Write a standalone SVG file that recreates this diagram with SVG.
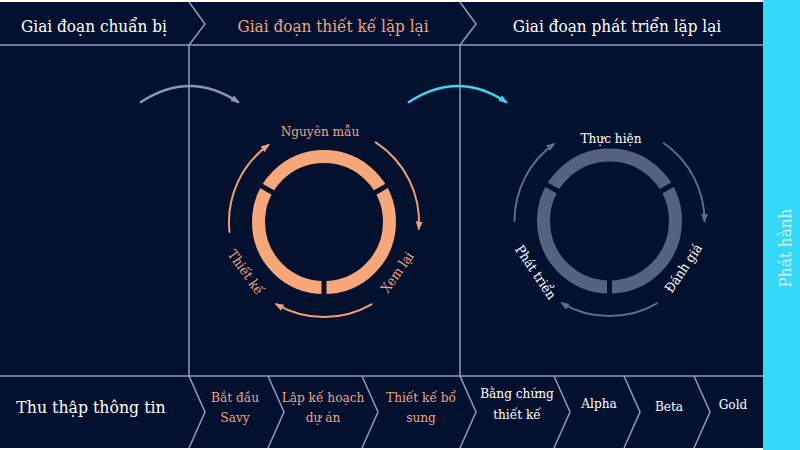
<svg xmlns="http://www.w3.org/2000/svg" width="800" height="450" viewBox="0 0 800 450">
<style>
  .t{font-family:'DejaVu Serif Condensed','DejaVu Serif',serif;text-anchor:middle}
  .w{fill:#ffffff}
  .o{fill:#f2a37e}
  .div{stroke:#8e9cc0;stroke-width:1.5;fill:none}
  .gap{stroke:#03112f;stroke-width:5}
</style>
<defs>
  <marker id="aO" markerUnits="userSpaceOnUse" markerWidth="10" markerHeight="8" refX="7" refY="4" orient="auto"><path d="M0,0.5 L9,4 L0,7.5 z" fill="#f1a07a"/></marker>
  <marker id="aG" markerUnits="userSpaceOnUse" markerWidth="10" markerHeight="8" refX="7" refY="4" orient="auto"><path d="M0,0.5 L9,4 L0,7.5 z" fill="#5d6d8c"/></marker>
  <marker id="aL" markerUnits="userSpaceOnUse" markerWidth="10" markerHeight="8" refX="7" refY="4" orient="auto"><path d="M0,0.5 L9,4 L0,7.5 z" fill="#8796b6"/></marker>
  <marker id="aC" markerUnits="userSpaceOnUse" markerWidth="10" markerHeight="8" refX="7" refY="4" orient="auto"><path d="M0,0.5 L9,4 L0,7.5 z" fill="#3ad6f5"/></marker>
</defs>
<rect x="0" y="0" width="800" height="450" fill="#ffffff"/>
<rect x="0" y="2" width="763" height="446" fill="#03112f"/>
<rect x="763" y="0" width="37" height="450" fill="#35d8f8"/>

<g id="frame">
  <line class="div" x1="0" y1="45" x2="763" y2="45"/>
  <line class="div" x1="0" y1="376" x2="763" y2="376"/>
  <polyline class="div" points="189,2 205,24 189,45 189,376 205,412 189,448"/>
  <polyline class="div" points="460,2 476,24 460,45 460,376 476,412 460,448"/>
  <polyline class="div" points="268,376 284,412 268,448"/>
  <polyline class="div" points="362,376 378,412 362,448"/>
  <polyline class="div" points="554,376 570,412 554,448"/>
  <polyline class="div" points="624,376 640,412 624,448"/>
  <polyline class="div" points="694,376 710,412 694,448"/>
</g>

<g id="header">
  <text class="t w" x="94" y="32" font-size="17">Giai đoạn chuẩn bị</text>
  <text class="t o" x="333" y="32" font-size="17">Giai đoạn thiết kế lặp lại</text>
  <text class="t w" x="617" y="32" font-size="17">Giai đoạn phát triển lặp lại</text>
</g>

<g id="steps">
  <text class="t w" x="91" y="413" font-size="17.5">Thu thập thông tin</text>
  <text class="t o" x="235" y="402" font-size="13.5">Bắt đầu</text>
  <text class="t o" x="235" y="422" font-size="13.5">Savy</text>
  <text class="t o" x="323" y="402" font-size="13.5">Lập kế hoạch</text>
  <text class="t o" x="323" y="422" font-size="13.5">dự án</text>
  <text class="t o" x="421" y="402" font-size="13.5">Thiết kế bổ</text>
  <text class="t o" x="421" y="422" font-size="13.5">sung</text>
  <text class="t w" x="517" y="398" font-size="13.5">Bằng chứng</text>
  <text class="t w" x="517" y="419" font-size="13.5">thiết kế</text>
  <text class="t w" x="599" y="408" font-size="13.5">Alpha</text>
  <text class="t w" x="669" y="411" font-size="13.5">Beta</text>
  <text class="t w" x="733" y="409" font-size="13.5">Gold</text>
</g>

<g id="release">
  <text class="t" x="0" y="0" font-size="17" fill="#cdf3fd" transform="translate(791,248) rotate(-90)">Phát hành</text>
</g>

<g id="design-cycle">
  <circle cx="324" cy="222" r="65.5" fill="none" stroke="#f8a77a" stroke-width="13"/>
  <line class="gap" x1="324" y1="276" x2="324" y2="299"/>
  <line class="gap" x1="370.8" y1="195" x2="391" y2="183.3"/>
  <line class="gap" x1="277.2" y1="195" x2="257" y2="183.3"/>
  <text class="t o" x="320" y="136" font-size="13.5">Nguyên mẫu</text>
  <text class="t o" x="0" y="5" font-size="13.5" transform="translate(246,272) rotate(55)">Thiết kế</text>
  <text class="t o" x="0" y="5" font-size="13.5" transform="translate(397,272) rotate(-55)">Xem lại</text>
</g>

<g id="dev-cycle">
  <circle cx="609.5" cy="221" r="66" fill="none" stroke="#55637f" stroke-width="13"/>
  <line class="gap" x1="609.5" y1="275" x2="609.5" y2="298"/>
  <line class="gap" x1="656.3" y1="194" x2="676.5" y2="182.3"/>
  <line class="gap" x1="562.7" y1="194" x2="542.5" y2="182.3"/>
  <text class="t w" x="611" y="143" font-size="13.5">Thực hiện</text>
  <text class="t w" x="0" y="5" font-size="13.5" transform="translate(536,272) rotate(56)">Phát triển</text>
  <text class="t w" x="0" y="5" font-size="13.5" transform="translate(683,268) rotate(-56)">Đánh giá</text>
</g>

<g id="connectors" fill="none" stroke-linecap="round">
  <path d="M141,102 Q190,70 238,102" stroke="#8796b6" stroke-width="2.5" marker-end="url(#aL)"/>
  <path d="M409,102 Q458,70 506,102" stroke="#3ad6f5" stroke-width="2.5" marker-end="url(#aC)"/>
  <path d="M229.5,231.9 A95,95 0 0 1 268.2,145.1" stroke="#f1a07a" stroke-width="2" marker-end="url(#aO)"/>
  <path d="M375.7,142.3 A95,95 0 0 1 418.8,228.6" stroke="#f1a07a" stroke-width="2" marker-end="url(#aO)"/>
  <path d="M371.5,304.3 A95,95 0 0 1 276.5,304.3" stroke="#f1a07a" stroke-width="2" marker-end="url(#aO)"/>
  <path d="M514.5,221 A95,95 0 0 1 553.7,144.1" stroke="#5d6d8c" stroke-width="2" marker-end="url(#aG)"/>
  <path d="M664,143.2 A95,95 0 0 1 704.5,221" stroke="#5d6d8c" stroke-width="2" marker-end="url(#aG)"/>
  <path d="M657,303.3 A95,95 0 0 1 562,303.3" stroke="#5d6d8c" stroke-width="2" marker-end="url(#aG)"/>
</g>
</svg>
